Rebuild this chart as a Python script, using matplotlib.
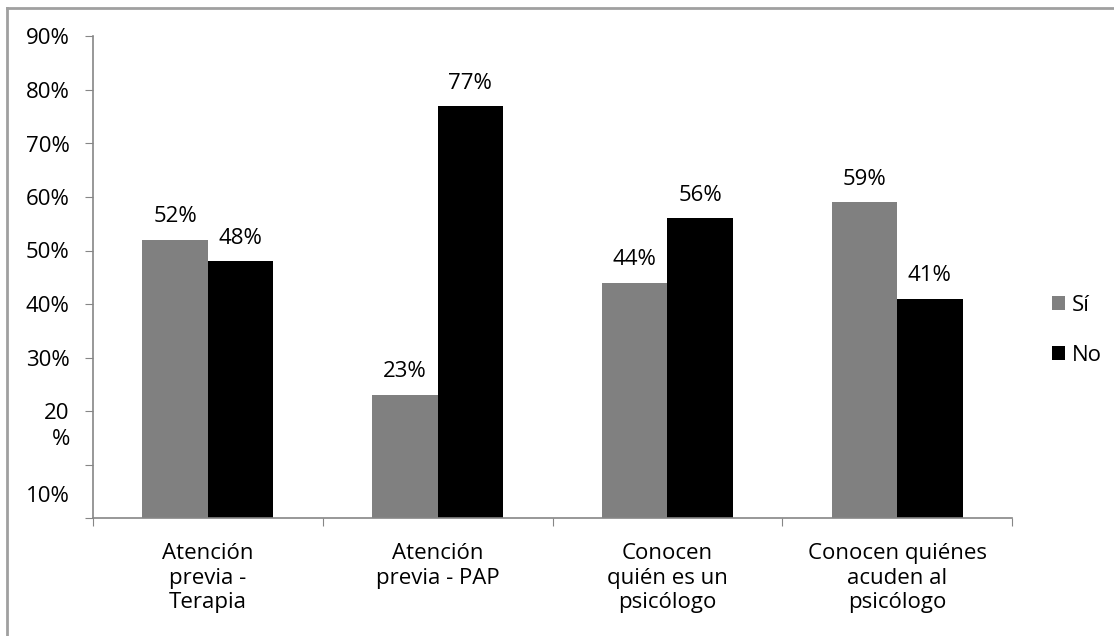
import matplotlib
matplotlib.use("Agg")
import matplotlib.pyplot as plt
import numpy as np
from matplotlib.lines import Line2D

categories = ["Atención\nprevia -\nTerapia", "Atención\nprevia - PAP",
              "Conocen\nquién es un\npsicólogo", "Conocen quiénes\nacuden al\npsicólogo"]
si_values = [52, 23, 44, 59]
no_values = [48, 77, 56, 41]
series_names = ["Sí", "No"]
ytick_values = [0, 10, 20, 30, 40, 50, 60, 70, 80, 90]
ytick_labels = ["", "", "20", "30%", "40%", "50%", "60%", "70%", "80%", "90%"]

FS = 16
plt.rcParams['font.family'] = ['Open Sans', 'DejaVu Sans']
fig = plt.figure(figsize=(11.14, 6.36), dpi=100)
ax = fig.add_axes([93/1114, 1-518/636, (1012-93)/1114, (518-36.5)/636])

x = np.arange(len(categories))
w = 0.285
spine_c = "#868686"
b1 = ax.bar(x - w/2, si_values, w, color="#808080", label=series_names[0])
b2 = ax.bar(x + w/2, no_values, w, color="#000000", label=series_names[1])
for bars, vals in ((b1, si_values), (b2, no_values)):
    for r, v in zip(bars, vals):
        ax.annotate(f"{v}%", (r.get_x() + r.get_width()/2, v), xytext=(0, 9),
                    textcoords="offset points", ha="center", va="bottom", fontsize=FS)

ax.set_xlim(-0.5, len(categories) - 0.5)
ax.set_ylim(0, 90)
ax.set_yticks(ytick_values)
ax.set_yticklabels(ytick_labels, fontsize=FS)
ytr = ax.get_yaxis_transform()
ax.text(-0.025, 14.6, "%", transform=ytr, ha="right", va="center", fontsize=FS)
ax.text(-0.025, 4.0, "10%", transform=ytr, ha="right", va="center", fontsize=FS)

ax.set_xticks(np.arange(len(categories) + 1) - 0.5)
ax.set_xticklabels([])
ax.set_xticks(x, minor=True)
ax.set_xticklabels(categories, minor=True, fontsize=FS, linespacing=1.22, va="top")
ax.tick_params(axis="x", which="minor", length=0, pad=18)
ax.tick_params(axis="x", which="major", length=6, color=spine_c, direction="out")
ax.tick_params(axis="y", length=6, color=spine_c, direction="out", pad=11)

for s in ("top", "right"):
    ax.spines[s].set_visible(False)
for s in ("left", "bottom"):
    ax.spines[s].set_color(spine_c)
    ax.spines[s].set_linewidth(1.2)

leg = ax.legend(loc="center left", bbox_to_anchor=(1.043, 0.39), frameon=False, fontsize=FS,
                handlelength=0.6, handleheight=0.6, handletextpad=0.3, labelspacing=1.3,
                borderpad=0, borderaxespad=0)

# outer frame (top and left edges)
fig.add_artist(Line2D([7/1114, 1], [1-8/636, 1-8/636], color="#a0a0a0", lw=2, transform=fig.transFigure))
fig.add_artist(Line2D([7/1114, 7/1114], [0, 1-8/636], color="#a0a0a0", lw=2, transform=fig.transFigure))

fig.savefig("out.png", dpi=100)
